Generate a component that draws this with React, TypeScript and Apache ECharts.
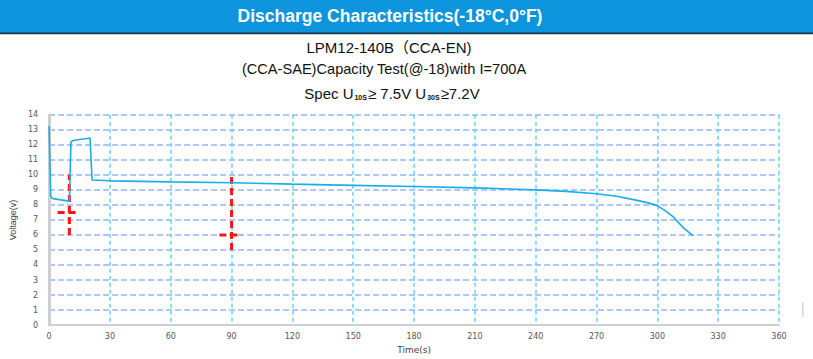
import React, { useEffect, useRef } from "react";
import * as echarts from "echarts";

const titleText = "Discharge Characteristics(-18°C,0°F)";
const subLine1 = "LPM12-140B（CCA-EN)";
const subLine2 = "(CCA-SAE)Capacity Test(@-18)with I=700A";

const timeS = [0, 0.8, 1.5, 5, 10, 10.8, 12, 15, 18, 20.2, 21.2, 30, 60, 90, 120, 150, 180, 210, 240, 255, 270, 280, 290, 295, 300, 304, 308, 313, 317.5];
const voltage = [13.25, 8.6, 8.43, 8.35, 8.25, 12.2, 12.28, 12.35, 12.4, 12.45, 9.65, 9.6, 9.53, 9.47, 9.38, 9.3, 9.22, 9.13, 9.0, 8.9, 8.74, 8.57, 8.3, 8.15, 7.95, 7.6, 7.18, 6.45, 5.95];

const markA_vertical = [[10, 6], [10, 10]];
const markA_horizontal = [[4.2, 7.5], [14.7, 7.5]];
const markB_vertical = [[90, 5], [90, 10]];
const markB_horizontal = [[84, 6], [95, 6]];

const xTicks = { min: 0, max: 360, interval: 30 };
const yTicks = { min: 0, max: 14, interval: 1 };

export default function App() {
  const ref = useRef<HTMLDivElement>(null);
  useEffect(() => {
    if (!ref.current) return;
    const chart = echarts.init(ref.current, null, { renderer: "svg" });
    const redStyle = { color: "#ff1414", width: 3, type: [7, 4] as any };
    const redSeries = (data: number[][]) => ({
      type: "line",
      data,
      showSymbol: false,
      symbol: "none",
      lineStyle: redStyle,
      silent: true,
      z: 3,
    });
    chart.setOption({
      animation: false,
      backgroundColor: "#ffffff",
      grid: { left: 46.7, right: 34, top: 114.7, bottom: 28, containLabel: false },
      xAxis: {
        type: "value",
        min: xTicks.min,
        max: xTicks.max,
        interval: xTicks.interval,
        name: "Time(s)",
        nameLocation: "middle",
        nameGap: 18,
        nameTextStyle: { fontFamily: "DejaVu Sans", fontSize: 9, color: "#444" },
        axisLine: { show: true, lineStyle: { color: "#cfcfcf", width: 2 } },
        axisTick: { show: false },
        axisLabel: { fontFamily: "DejaVu Sans", fontSize: 8, color: "#555", margin: 7 },
        splitLine: { show: true, lineStyle: { color: "#62d6ef", width: 1.5, type: [4, 3] } },
      },
      yAxis: {
        type: "value",
        min: yTicks.min,
        max: yTicks.max,
        interval: yTicks.interval,
        name: "Voltage(v)",
        nameLocation: "middle",
        nameGap: 27,
        nameTextStyle: { fontFamily: "'Liberation Sans Narrow', 'Liberation Sans'", fontSize: 9, color: "#444" },
        axisLine: { show: true, lineStyle: { color: "#cfcfcf", width: 3 } },
        axisTick: { show: false },
        axisLabel: { fontFamily: "DejaVu Sans", fontSize: 8, color: "#555", margin: 11 },
        splitLine: { show: true, lineStyle: { color: "#92b6f6", width: 1.5, type: [6, 3] } },
      },
      series: [
        {
          type: "line",
          data: timeS.map((t, i) => [t, voltage[i]]),
          showSymbol: false,
          symbol: "none",
          lineStyle: { color: "#19aeea", width: 1.6 },
          z: 4,
        },
        redSeries(markA_vertical),
        redSeries(markA_horizontal),
        redSeries(markB_vertical),
        redSeries(markB_horizontal),
      ],
      graphic: [
        { type: "rect", shape: { x: 0, y: 0, width: 813, height: 33 }, style: { fill: "#0c95dc" }, silent: true },
        { type: "rect", shape: { x: 0, y: 32.5, width: 813, height: 1.8 }, style: { fill: "#1c3342" }, silent: true },
        {
          type: "text",
          x: 390,
          y: 16,
          style: {
            text: titleText,
            fill: "#ffffff",
            font: "bold 17.5px 'Liberation Sans', Arial, sans-serif",
            align: "center",
            verticalAlign: "middle",
          },
        },
        {
          type: "text",
          x: 389,
          y: 47.5,
          style: {
            text: subLine1,
            fill: "#111",
            font: "15px 'Liberation Sans', 'Noto Sans CJK SC', sans-serif",
            align: "center",
            verticalAlign: "middle",
          },
        },
        {
          type: "text",
          x: 384,
          y: 68.5,
          style: {
            text: subLine2,
            fill: "#111",
            font: "14.6px 'Liberation Sans', sans-serif",
            align: "center",
            verticalAlign: "middle",
          },
        },
        {
          type: "text",
          x: 392,
          y: 93.5,
          style: {
            text: "{n|Spec U}{s|10S}{n|≥ 7.5V U}{s|30S}{n|≥7.2V}",
            fill: "#111",
            align: "center",
            verticalAlign: "middle",
            rich: {
              n: { fontFamily: "'Liberation Sans', sans-serif", fontSize: 15, fill: "#111", lineHeight: 18 },
              s: { fontFamily: "'Liberation Sans', sans-serif", fontSize: 7, fontWeight: "bold", fill: "#111", lineHeight: 18, verticalAlign: "bottom", padding: [0, 1, 2, 1] },
            },
          },
        },
        { type: "rect", shape: { x: 802, y: 302, width: 1.5, height: 15 }, style: { fill: "#d8d8d8" }, silent: true },
      ],
    });
    return () => chart.dispose();
  }, []);
  return <div ref={ref} style={{ width: 813, height: 359, position: "absolute", left: 0, top: 0 }} />;
}
